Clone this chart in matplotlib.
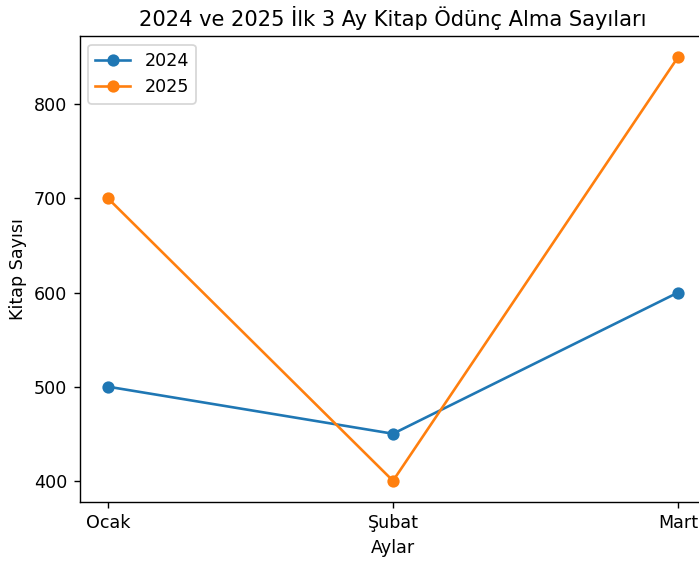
import matplotlib
matplotlib.use("Agg")
import matplotlib.pyplot as plt

aylar = ["Ocak", "Şubat", "Mart"]
kitap_2024 = [500, 450, 600]
kitap_2025 = [700, 400, 850]

dpi = 126
fig = plt.figure(figsize=(699 / dpi, 561 / dpi), dpi=dpi)
ax = fig.add_axes([79.5 / 699, 59 / 561, 627 / 699, 466 / 561])

ax.plot(aylar, kitap_2024, marker='o', label='2024')
ax.plot(aylar, kitap_2025, marker='o', label='2025')

ax.set_title('2024 ve 2025 İlk 3 Ay Kitap Ödünç Alma Sayıları')
ax.set_xlabel('Aylar')
ax.set_ylabel('Kitap Sayısı')
ax.legend(loc='upper left')

fig.savefig('out.png', dpi=dpi)
